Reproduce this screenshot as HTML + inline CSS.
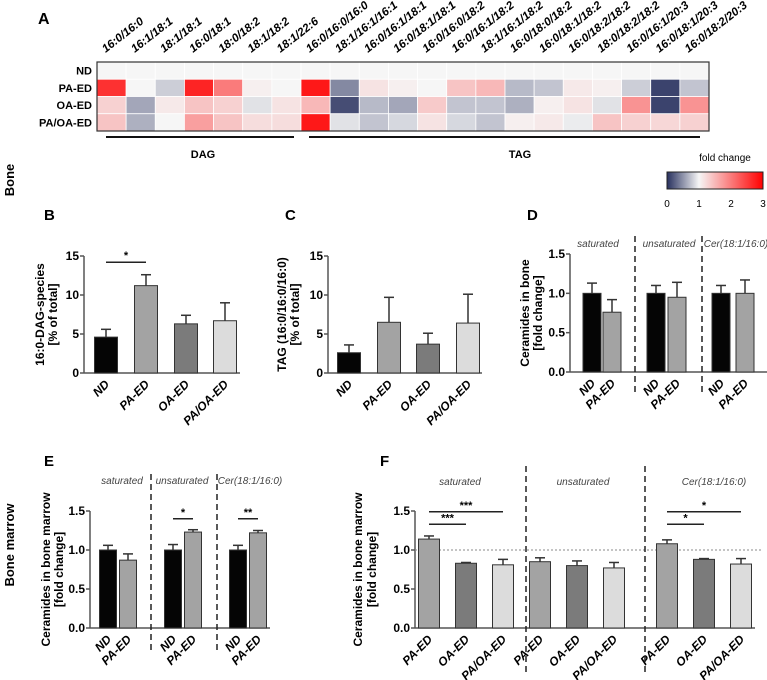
<!DOCTYPE html>
<html><head><meta charset="utf-8">
<style>
html,body{margin:0;padding:0;background:#fff;}
svg{display:block;font-family:"Liberation Sans",sans-serif;}
</style></head>
<body>
<svg id="fig" width="767" height="680" viewBox="0 0 767 680" xmlns="http://www.w3.org/2000/svg">
<defs>
<linearGradient id="cb" x1="0" x2="1" y1="0" y2="0">
<stop offset="0" stop-color="#27305e"/><stop offset="0.333" stop-color="#f6f6f6"/><stop offset="1" stop-color="#ff0000"/>
</linearGradient>
</defs>
</svg>
<script>
// ---------- DATA ----------
const hmRows = ["ND","PA-ED","OA-ED","PA/OA-ED"];
const hmCols = ["16:0/16:0","16:1/18:1","18:1/18:1","16:0/18:1","18:0/18:2","18:1/18:2","18:1/22:6","16:0/16:0/16:0","18:1/16:1/16:1","16:0/16:1/18:1","16:0/18:1/18:1","16:0/16:0/18:2","16:0/16:1/18:2","18:1/16:1/18:2","16:0/18:0/18:2","16:0/18:1/18:2","16:0/18:2/18:2","18:0/18:2/18:2","16:0/16:1/20:3","16:0/18:1/20:3","16:0/18:2/20:3"];
const hmND   = [1,1,1,1,1,1,1,1,1,1,1,1,1,1,1,1,1,1,1,1,1];
const hmPA   = [2.6,1.0,0.8,2.7,2.0,1.05,1.0,2.8,0.45,1.15,1.05,1.0,1.4,1.5,0.7,0.75,1.1,1.05,0.8,0.1,0.75];
const hmOA   = [1.3,0.6,1.1,1.4,1.3,0.9,1.15,1.5,0.15,0.7,0.6,1.35,0.75,0.75,0.65,1.05,1.15,0.9,1.8,0.1,1.8];
const hmPAOA = [1.4,0.65,1.0,1.7,1.4,1.2,1.2,2.8,0.9,0.75,0.85,1.15,0.85,0.75,1.05,1.1,0.95,1.4,1.3,1.25,1.3];
const cbTicks = ["0","1","2","3"];

const bCats = ["ND","PA-ED","OA-ED","PA/OA-ED"];
const bVals = [4.6,11.2,6.3,6.7];
const bErr  = [1.0,1.4,1.1,2.3];
const cVals = [2.6,6.5,3.7,6.4];
const cErr  = [1.0,3.2,1.4,3.7];
const bcTicks = [0,5,10,15];

const dCats = ["ND","PA-ED","ND","PA-ED","ND","PA-ED"];
const dVals = [1.0,0.76,1.0,0.95,1.0,1.0];
const dErr  = [0.13,0.16,0.10,0.19,0.10,0.17];
const eVals = [1.0,0.87,1.0,1.23,1.0,1.22];
const eErr  = [0.06,0.08,0.07,0.03,0.06,0.03];
const fCats = ["PA-ED","OA-ED","PA/OA-ED","PA-ED","OA-ED","PA/OA-ED","PA-ED","OA-ED","PA/OA-ED"];
const fVals = [1.14,0.83,0.81,0.85,0.80,0.77,1.08,0.88,0.82];
const fErr  = [0.04,0.01,0.07,0.05,0.06,0.07,0.05,0.01,0.07];
const foldTicks = [0.0,0.5,1.0,1.5];
const sections = ["saturated","unsaturated","Cer(18:1/16:0)"];

// ---------- HELPERS ----------
const svg = document.getElementById('fig');
const NS = "http://www.w3.org/2000/svg";
function mk(tag, attrs, parent){
  const el = document.createElementNS(NS, tag);
  for (const k in attrs) el.setAttribute(k, attrs[k]);
  (parent||svg).appendChild(el);
  return el;
}
function txt(str, attrs, parent){ const t = mk('text', attrs, parent); t.textContent = str; return t; }
const fillOf = {"ND":"#050505","PA-ED":"#a3a3a3","OA-ED":"#7b7b7b","PA/OA-ED":"#dcdcdc"};

function hmColor(v){
  let r,g,b;
  if (v<=1){ const t=v; r=39+(246-39)*t; g=48+(246-48)*t; b=94+(246-94)*t; }
  else { const t=Math.min((v-1)/2,1); r=246+(255-246)*t; g=246*(1-t); b=246*(1-t); }
  return `rgb(${r|0},${g|0},${b|0})`;
}

// ---------- PANEL A: HEATMAP ----------
const hmX0=97, hmY0=62, cw=(709-97)/21, rh=(131-62)/4;
const hmData=[hmND,hmPA,hmOA,hmPAOA];
let lab = txt("A",{x:38,y:24,'font-size':16,'font-weight':'bold'});


hmRows.forEach((r,i)=>{
  const t = txt(r,{x:92,y:hmY0+rh*i+rh/2+4,'text-anchor':'end','font-size':11,'font-weight':'bold'});
  
  
  hmData[i].forEach((v,j)=>{
    const c = mk('rect',{x:hmX0+cw*j,y:hmY0+rh*i,width:cw,height:rh,fill:hmColor(v),stroke:'#fff','stroke-width':0.8});
    
    
  });
});
const hb = mk('rect',{x:hmX0,y:hmY0,width:cw*21,height:rh*4,fill:'none',stroke:'#333','stroke-width':1.2});


hmCols.forEach((c,j)=>{
  const cx = hmX0+cw*j+cw/2-6, cy=53;
  const t = txt(c,{x:cx,y:cy,'font-size':11.5,'font-weight':'bold','font-style':'italic',transform:`rotate(-38 ${cx} ${cy})`});
  
  
});
let l1 = mk('line',{x1:106,y1:137,x2:294,y2:137,stroke:'#111','stroke-width':2});


let l2 = mk('line',{x1:309,y1:137,x2:700,y2:137,stroke:'#111','stroke-width':2});


let t1 = txt("DAG",{x:203,y:158,'text-anchor':'middle','font-size':11,'font-weight':'bold'});


let t2 = txt("TAG",{x:520,y:158,'text-anchor':'middle','font-size':11,'font-weight':'bold'});


let fc = txt("fold change",{x:725,y:161,'text-anchor':'middle','font-size':10});


let cb = mk('rect',{x:667,y:172,width:96,height:17,fill:'url(#cb)',stroke:'#222','stroke-width':1});


cbTicks.forEach((s,i)=>{
  const x = 667+i*32;
  const t = txt(s,{x:x,y:207,'text-anchor':'middle','font-size':10});
  
  
});
let bone = txt("Bone",{x:14,y:180,'text-anchor':'middle','font-size':13,'font-weight':'bold',transform:'rotate(-90 14 180)'});


let bm = txt("Bone marrow",{x:14,y:545,'text-anchor':'middle','font-size':13,'font-weight':'bold',transform:'rotate(-90 14 545)'});



// ---------- BAR CHART FUNCTION ----------
function barChart(o){
  const g = mk('g',{});
  
  
  const y = v => o.y0 - (v - o.min)/(o.max-o.min)*(o.y0-o.yTop);
  const pl = txt(o.letter,{x:o.lx,y:o.ly,'font-size':15,'font-weight':'bold'},g);
  
  
  o.title.forEach((s,i)=>{
    const tx=o.titleX[i], ty=(o.y0+o.yTop)/2;
    const t = txt(s,{x:tx,y:ty,'text-anchor':'middle','font-size':12,'font-weight':'bold',transform:`rotate(-90 ${tx} ${ty})`},g);
    
    
  });
  const ya = mk('line',{x1:o.ax,y1:y(o.ticks[o.ticks.length-1]),x2:o.ax,y2:o.y0,stroke:'#555','stroke-width':1.5},g);
  
  
  const xa = mk('line',{x1:o.ax,y1:o.y0,x2:o.axEnd,y2:o.y0,stroke:'#555','stroke-width':1.5},g);
  
  
  o.ticks.forEach(v=>{
    const tk = mk('line',{x1:o.ax-4,y1:y(v),x2:o.ax,y2:y(v),stroke:'#555','stroke-width':1.5},g);
    
    
    const tl = txt(o.fmt(v),{x:o.ax-5,y:y(v)+4,'text-anchor':'end','font-size':12,'font-weight':'bold'},g);
    
    
  });
  if (o.refLine){
    const rl = mk('line',{x1:o.ax,y1:y(1),x2:o.refEnd,y2:y(1),stroke:'#888','stroke-width':1,'stroke-dasharray':'2,2'},g);
    
    
  }
  o.cats.forEach((c,i)=>{
    const cx = o.centers[i], w=o.bw;
    const top = y(o.vals[i]), et = y(o.vals[i]+o.err[i]);
    const eb = mk('line',{x1:cx,y1:top,x2:cx,y2:et,stroke:'#333','stroke-width':1.5},g);
    
    
    const ec = mk('line',{x1:cx-5,y1:et,x2:cx+5,y2:et,stroke:'#333','stroke-width':1.5},g);
    
    
    const b = mk('rect',{x:cx-w/2,y:top,width:w,height:o.y0-top,fill:fillOf[c],stroke:'#333','stroke-width':1},g);
    
    
    const lx=cx+4, ly=o.y0+12;
    const xl = txt(c,{x:lx,y:ly,'text-anchor':'end','font-size':12,'font-weight':'bold','font-style':'italic',transform:`rotate(-45 ${lx} ${ly})`},g);
    
    
  });
  (o.dividers||[]).forEach(dx=>{
    const d = mk('line',{x1:dx,y1:o.divY[0],x2:dx,y2:o.divY[1],stroke:'#222','stroke-width':1.5,'stroke-dasharray':'6,4'},g);
    
    
  });
  (o.secX||[]).forEach((sx,i)=>{
    const s = txt(sections[i],{x:sx,y:o.secY,'text-anchor':'middle','font-size':10,'font-style':'italic',fill:'#444'},g);
    
    
  });
  (o.sig||[]).forEach(s=>{
    const ly2 = y(s.v);
    const sl = mk('line',{x1:o.centers[s.a],y1:ly2,x2:o.centers[s.b],y2:ly2,stroke:'#222','stroke-width':1.5},g);
    
    
    const st = txt(s.t,{x:(o.centers[s.a]+o.centers[s.b])/2,y:ly2-3,'text-anchor':'middle','font-size':11,'font-weight':'bold'},g);
    
    
  });
}

// B
barChart({name:'panel-b-chart',letter:'B',lx:44,ly:220,title:['16:0-DAG-species','[% of total]'],titleX:[44,57],
  ax:84,axEnd:240,y0:373,yTop:256,min:0,max:15,ticks:bcTicks,fmt:v=>String(v),
  cats:bCats,vals:bVals,err:bErr,centers:[106,146,186,225],bw:23,sig:[{a:0,b:1,v:14.2,t:'*'}]});
// C
barChart({name:'panel-c-chart',letter:'C',lx:285,ly:220,title:['TAG (16:0/16:0/16:0)','[% of total]'],titleX:[286,299],
  ax:328,axEnd:482,y0:373,yTop:256,min:0,max:15,ticks:bcTicks,fmt:v=>String(v),
  cats:bCats,vals:cVals,err:cErr,centers:[349,389,428,468],bw:23});
// D
barChart({name:'panel-d-chart',letter:'D',lx:527,ly:220,title:['Ceramides in bone','[fold change]'],titleX:[529,542],
  ax:570,axEnd:767,y0:372,yTop:254,min:0,max:1.5,ticks:foldTicks,fmt:v=>v.toFixed(1),
  cats:dCats,vals:dVals,err:dErr,centers:[592,612,656,677,721,745],bw:18,
  dividers:[635,702],divY:[236,395],secX:[598,669,736],secY:247});
// E
barChart({name:'panel-e-chart',letter:'E',lx:44,ly:466,title:['Ceramides in bone marrow','[fold change]'],titleX:[50,63],
  ax:90,axEnd:270,y0:628,yTop:511,min:0,max:1.5,ticks:foldTicks,fmt:v=>v.toFixed(1),
  cats:dCats,vals:eVals,err:eErr,centers:[108,128,173,193,238,258],bw:17,
  dividers:[151,217],divY:[474,652],secX:[122,182,250],secY:484,
  sig:[{a:2,b:3,v:1.4,t:'*'},{a:4,b:5,v:1.4,t:'**'}]});
// F
barChart({name:'panel-f-chart',letter:'F',lx:380,ly:466,title:['Ceramides in bone marrow','[fold change]'],titleX:[362,376],
  ax:415,axEnd:755,y0:628,yTop:511,min:0,max:1.5,ticks:foldTicks,fmt:v=>v.toFixed(1),
  cats:fCats,vals:fVals,err:fErr,centers:[429,466,503,540,577,614,667,704,741],bw:21,
  refLine:true,refEnd:762,
  dividers:[526,645],divY:[466,676],secX:[460,583,714],secY:485,
  sig:[{a:0,b:1,v:1.33,t:'***'},{a:0,b:2,v:1.49,t:'***'},{a:6,b:7,v:1.33,t:'*'},{a:6,b:8,v:1.49,t:'*'}]});
</script>
</body></html>
